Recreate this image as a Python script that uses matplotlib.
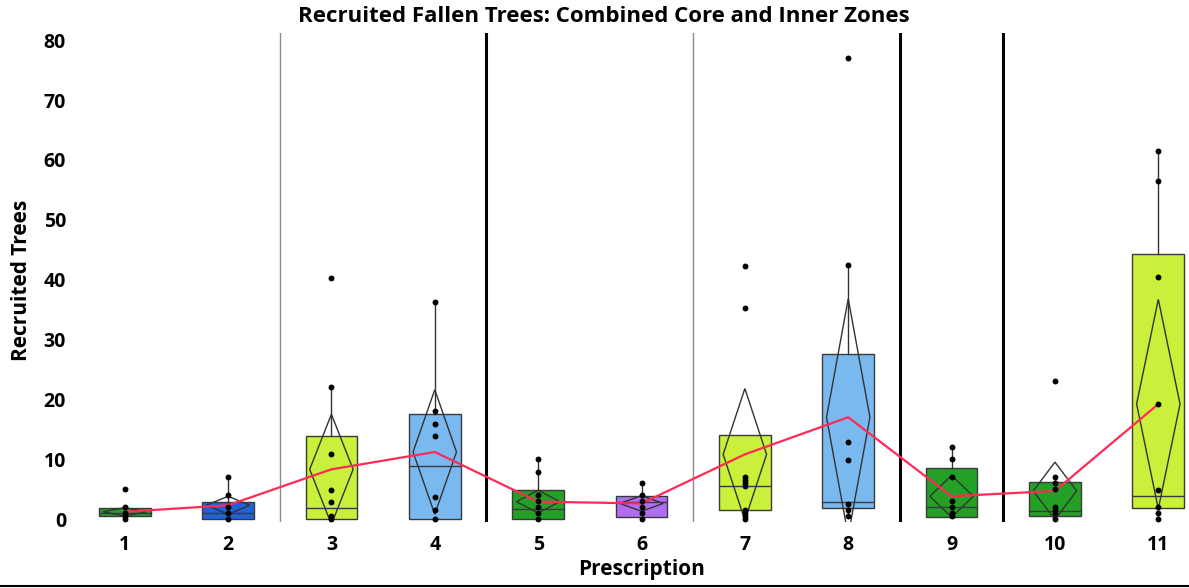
import numpy as np
import matplotlib
matplotlib.use("Agg")
import matplotlib.pyplot as plt
from matplotlib.lines import Line2D

plt.rcParams['font.family'] = ['Open Sans', 'DejaVu Sans']
plt.rcParams['font.weight'] = 'bold'

# Prescriptions 1..11
prescriptions = list(range(1, 12))

# box statistics
q1 = [0.5, 0.0, 0.0, 0.0, 0.0, 0.3, 1.5, 1.8, 0.4, 0.5, 1.8]
medians = [1.0, 1.0, 1.8, 8.8, 1.6, 2.9, 5.5, 2.8, 2.0, 1.4, 3.8]
q3 = [1.9, 2.9, 13.8, 17.6, 4.8, 3.8, 14.0, 27.6, 8.5, 6.2, 44.3]
whis_lo = [0.0, 0.0, 0.0, 0.0, 0.0, 0.0, 0.5, 0.5, 0.5, 0.0, 0.0]
whis_hi = [2.0, 7.0, 22.0, 36.3, 10.0, 6.0, 14.0, 42.5, 12.0, 7.0, 61.5]

# mean and half width of the mean confidence interval (diamonds)
means = [1.2, 2.3, 8.3, 11.2, 2.9, 2.6, 10.8, 17.0, 3.8, 4.7, 19.2]
ci_half = [0.7, 1.5, 9.2, 10.4, 1.9, 1.3, 11.0, 19.8, 3.5, 4.8, 17.5]

# individual observations
points = [
    [5.0, 2.0, 1.0, 0.5, 0.0],
    [7.0, 4.0, 2.0, 1.0, 0.0],
    [40.3, 22.0, 10.8, 4.8, 2.8, 0.5, 0.0],
    [36.3, 18.0, 15.9, 13.8, 3.7, 1.5, 0.0],
    [10.0, 7.9, 4.0, 3.0, 2.0, 1.0, 0.0],
    [6.0, 4.0, 3.0, 2.0, 1.0, 0.0],
    [42.3, 35.2, 7.0, 6.5, 6.0, 5.5, 1.5, 1.0, 0.5, 0.0],
    [77.0, 42.5, 12.9, 9.8, 2.5, 1.5, 0.5],
    [12.0, 10.0, 7.0, 3.0, 2.0, 1.0, 0.5],
    [23.1, 7.0, 6.0, 5.0, 2.0, 1.5, 1.0, 0.0],
    [61.5, 56.5, 40.4, 19.2, 4.8, 2.0, 1.0, 0.0],
]

green = '#23a025'
blue = '#1f63d8'
lime = '#c9f03a'
lightblue = '#7ab8f0'
purple = '#b16ef0'
box_colors = [green, blue, lime, lightblue, green, purple, lime, lightblue,
              green, green, lime]

thin_seps = [2.5, 6.5]
thick_seps = [4.5, 8.5, 9.5]

W, H = 1189, 588
fig = plt.figure(figsize=(W / 100, H / 100), dpi=100)
ax = fig.add_axes([73 / W, 1 - 522 / H, (1210 - 73) / W, (522 - 33) / H])

stats = []
for i in range(len(prescriptions)):
    stats.append(dict(med=medians[i], q1=q1[i], q3=q3[i],
                      whislo=whis_lo[i], whishi=whis_hi[i], fliers=[]))

bp = ax.bxp(stats, positions=prescriptions, widths=0.5, patch_artist=True,
            showcaps=False, showfliers=False,
            boxprops=dict(edgecolor='#3a3a3a', linewidth=1),
            medianprops=dict(color='#3a3a3a', linewidth=1),
            whiskerprops=dict(color='#333333', linewidth=1))
for patch, c in zip(bp['boxes'], box_colors):
    patch.set_facecolor(c)

# mean confidence diamonds
dw = 0.21
for x, m, h in zip(prescriptions, means, ci_half):
    ax.fill([x - dw, x, x + dw, x, x - dw], [m, m + h, m, m - h, m],
            facecolor='none', edgecolor='#333333', linewidth=1, zorder=3)

# mean connect line
ax.plot(prescriptions, means, color='#ff2a55', linewidth=1.6, zorder=4)

# individual points
for x, pts in zip(prescriptions, points):
    ax.scatter([x] * len(pts), pts, s=18, color='black', zorder=5,
               linewidths=0)

for s in thin_seps:
    ax.axvline(s, color='#8c8c8c', linewidth=1)
for s in thick_seps:
    ax.axvline(s, color='black', linewidth=2.2)

ax.set_xlim(0.5, 11.5)
ax.set_ylim(-0.5, 81.2)
ax.set_yticks(range(0, 81, 10))
ax.set_xticks(prescriptions)
ax.set_xticklabels([str(p) for p in prescriptions])
ax.tick_params(length=0, labelsize=14)
ax.tick_params(axis='y', pad=5)
ax.tick_params(axis='x', pad=9)
for sp in ax.spines.values():
    sp.set_visible(False)

fig.text(604 / W, 1 - 16 / H, 'Recruited Fallen Trees: Combined Core and Inner Zones',
         ha='center', va='center', fontsize=16, fontweight='bold')
fig.text(642 / W, 1 - 570 / H, 'Prescription', ha='center', va='center',
         fontsize=15, fontweight='bold')
fig.text(22 / W, 1 - 280 / H, 'Recruited Trees', ha='center', va='center',
         rotation=90, fontsize=15, fontweight='bold')

fig.add_artist(Line2D([0, 1], [1 - 586 / H, 1 - 586 / H], color='black',
                      linewidth=1.5, transform=fig.transFigure))

fig.savefig('out.png', dpi=100)
